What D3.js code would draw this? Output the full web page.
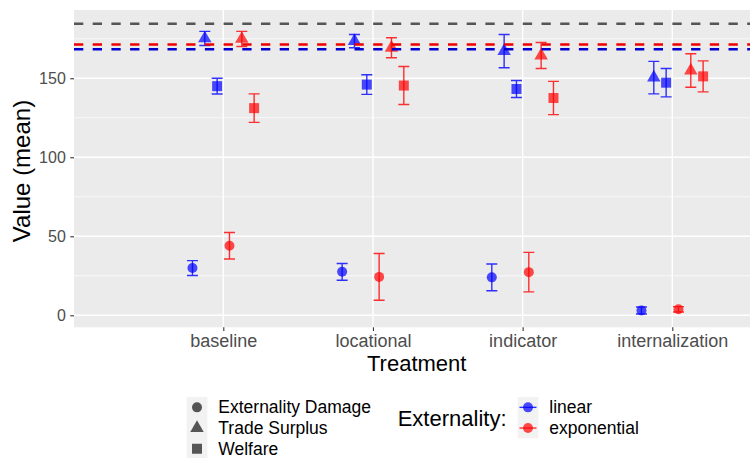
<!DOCTYPE html>
<html>
<head>
<meta charset="utf-8">
<script src="https://cdn.jsdelivr.net/npm/d3@7"></script>
<style>
  html, body { margin: 0; padding: 0; background: #fff; }
  svg { display: block; font-family: "Liberation Sans", Arial, sans-serif; }
</style>
</head>
<body>
<svg id="chart" width="750" height="458"></svg>
<script>
// Treatments on the x axis, measures (point shapes) and externality types (colours)
const treatments = ["baseline", "locational", "indicator", "internalization"];
const measures = ["Externality Damage", "Trade Surplus", "Welfare"];
const externalities = ["linear", "exponential"];

// Means and error half-widths, one value per treatment
const damageLinearMean = [29.9, 27.5, 24.0, 3.0];
const damageLinearErr = [4.7, 5.3, 8.5, 2.2];
const damageExpMean = [44.0, 24.3, 27.3, 3.8];
const damageExpErr = [8.4, 14.8, 12.5, 1.7];
const surplusLinearMean = [175.2, 173.5, 167.2, 150.4];
const surplusLinearErr = [4.5, 4.2, 10.5, 10.3];
const surplusExpMean = [174.9, 169.3, 164.4, 154.9];
const surplusExpErr = [4.8, 6.3, 8.2, 10.6];
const welfareLinearMean = [145.0, 146.0, 143.2, 147.2];
const welfareLinearErr = [5.0, 6.2, 5.4, 9.0];
const welfareExpMean = [131.1, 145.4, 137.5, 151.2];
const welfareExpErr = [9.0, 12.0, 10.5, 9.8];

// Reference levels (dashed horizontal lines)
const referenceValues = [184.5, 171.4, 168.4];
const referenceKinds = ["max", "exponential", "linear"];

const yTicks = [0, 50, 100, 150];
const yMinorTicks = [25, 75, 125, 175];

// Long-format rows built from the arrays above
const seriesTable = [
  { measure: measures[0], ext: "linear", mean: damageLinearMean, err: damageLinearErr },
  { measure: measures[1], ext: "linear", mean: surplusLinearMean, err: surplusLinearErr },
  { measure: measures[2], ext: "linear", mean: welfareLinearMean, err: welfareLinearErr },
  { measure: measures[0], ext: "exponential", mean: damageExpMean, err: damageExpErr },
  { measure: measures[1], ext: "exponential", mean: surplusExpMean, err: surplusExpErr },
  { measure: measures[2], ext: "exponential", mean: welfareExpMean, err: welfareExpErr }
];
const rows = [];
seriesTable.forEach((s, gi) => {
  treatments.forEach((t, i) => {
    rows.push({ treatment: t, measure: s.measure, ext: s.ext, group: gi, value: s.mean[i], err: s.err[i] });
  });
});

const colour = { linear: "#0000ff", exponential: "#ff0000" };
const refColour = { max: "#555555", linear: "#0000cc", exponential: "#ee0000" };

const svg = d3.select("#chart");
const panel = { left: 74, right: 750, top: 10, bottom: 327.3 };

const x = d3.scalePoint().domain(treatments).range([223.3, 672.3]);
const dodge = d3.scaleBand().domain(d3.range(6)).range([-37, 37]);
const y = d3.scaleLinear().domain([-7.6, 193.2]).range([panel.bottom, panel.top]);

// Panel background and grid
svg.append("rect")
  .attr("x", panel.left).attr("y", panel.top)
  .attr("width", panel.right - panel.left).attr("height", panel.bottom - panel.top)
  .attr("fill", "#ebebeb");

const grid = svg.append("g");
grid.selectAll("line.minor").data(yMinorTicks).join("line")
  .attr("x1", panel.left).attr("x2", panel.right)
  .attr("y1", d => y(d)).attr("y2", d => y(d))
  .attr("stroke", "#fff").attr("stroke-width", 0.7);
grid.selectAll("line.major").data(yTicks).join("line")
  .attr("x1", panel.left).attr("x2", panel.right)
  .attr("y1", d => y(d)).attr("y2", d => y(d))
  .attr("stroke", "#fff").attr("stroke-width", 1.4);
grid.selectAll("line.vmajor").data(treatments).join("line")
  .attr("x1", d => x(d)).attr("x2", d => x(d))
  .attr("y1", panel.top).attr("y2", panel.bottom)
  .attr("stroke", "#fff").attr("stroke-width", 1.4);

// Point shapes following base R pch 16 / 17 / 15
const R = 5;
function shapePath(measure, cx, cy, r) {
  if (measure === measures[0]) {
    return `M${cx - r},${cy}a${r},${r} 0 1,0 ${2 * r},0a${r},${r} 0 1,0 ${-2 * r},0Z`;
  } else if (measure === measures[1]) {
    const rt = 1.5551 * r, hx = 1.3468 * r, hy = 0.7776 * r;
    return `M${cx},${cy - rt}L${cx + hx},${cy + hy}L${cx - hx},${cy + hy}Z`;
  }
  return `M${cx - r},${cy - r}h${2 * r}v${2 * r}h${-2 * r}Z`;
}

const px = d => x(d.treatment) + dodge(d.group) + dodge.bandwidth() / 2;

// Points
svg.append("g").selectAll("path").data(rows).join("path")
  .attr("d", d => shapePath(d.measure, px(d), y(d.value), R))
  .attr("fill", d => colour[d.ext]).attr("fill-opacity", 0.7);

// Error bars
const cap = 5.5;
const eb = svg.append("g").selectAll("g").data(rows).join("g")
  .attr("stroke", d => colour[d.ext]).attr("stroke-opacity", 0.8)
  .attr("stroke-width", 1.4).attr("fill", "none");
eb.append("path")
  .attr("d", d => {
    const cx = px(d), y1 = y(d.value + d.err), y0 = y(d.value - d.err);
    return `M${cx - cap},${y1}H${cx + cap}M${cx},${y1}V${y0}M${cx - cap},${y0}H${cx + cap}`;
  });

// Dashed reference lines
svg.append("g").selectAll("line").data(referenceValues).join("line")
  .attr("x1", panel.left).attr("x2", panel.right)
  .attr("y1", d => y(d)).attr("y2", d => y(d))
  .attr("stroke", (d, i) => refColour[referenceKinds[i]])
  .attr("stroke-width", 2.6)
  .attr("stroke-dasharray", "9.3,9.4");

// Axes
const yAxis = svg.append("g")
  .attr("transform", `translate(${panel.left},0)`)
  .call(d3.axisLeft(y).tickValues(yTicks).tickSize(3.7).tickPadding(4.5));
yAxis.select(".domain").remove();
yAxis.selectAll(".tick line").attr("stroke", "#333").attr("stroke-width", 1.1);
yAxis.selectAll(".tick text").attr("fill", "#4d4d4d")
  .style("font-size", "16px").style("font-family", "Liberation Sans, Arial, sans-serif");

const xAxis = svg.append("g")
  .attr("transform", `translate(0,${panel.bottom})`)
  .call(d3.axisBottom(x).tickSize(3.7).tickPadding(3));
xAxis.select(".domain").remove();
xAxis.selectAll(".tick line").attr("stroke", "#333").attr("stroke-width", 1.1);
xAxis.selectAll(".tick text").attr("fill", "#4d4d4d")
  .style("font-size", "18px").style("font-family", "Liberation Sans, Arial, sans-serif");

// Axis titles
svg.append("text")
  .attr("x", 367).attr("y", 371)
  .attr("font-size", 22).attr("fill", "#000")
  .text("Treatment");
svg.append("text")
  .attr("transform", "translate(30,171) rotate(-90)")
  .attr("text-anchor", "middle")
  .attr("font-size", 24).attr("fill", "#000")
  .text("Value (mean)");

// Shape legend
const rowH = 20.7, legTop = 397;
const shapeLeg = svg.append("g");
shapeLeg.append("rect")
  .attr("x", 186.7).attr("y", legTop).attr("width", 20.7).attr("height", rowH * measures.length)
  .attr("fill", "#f2f2f2");
measures.forEach((m, i) => {
  const cy = legTop + rowH * (i + 0.5);
  shapeLeg.append("path")
    .attr("d", shapePath(m, 197, cy, R))
    .attr("fill", "#000").attr("fill-opacity", 0.65);
  shapeLeg.append("text")
    .attr("x", 218.3).attr("y", cy + 6.0)
    .attr("font-size", 17.5).attr("fill", "#000")
    .text(m);
});

// Colour legend
const colLeg = svg.append("g");
colLeg.append("text")
  .attr("x", 397.7).attr("y", 426)
  .attr("font-size", 22).attr("fill", "#000")
  .text("Externality:");
colLeg.append("rect")
  .attr("x", 517.7).attr("y", legTop).attr("width", 20.7).attr("height", rowH * externalities.length)
  .attr("fill", "#f2f2f2");
externalities.forEach((e, i) => {
  const cy = legTop + rowH * (i + 0.5);
  colLeg.append("line")
    .attr("x1", 519.5).attr("x2", 536.5).attr("y1", cy).attr("y2", cy)
    .attr("stroke", colour[e]).attr("stroke-opacity", 0.8).attr("stroke-width", 1.4);
  colLeg.append("path")
    .attr("d", shapePath(measures[0], 528, cy, R))
    .attr("fill", colour[e]).attr("fill-opacity", 0.7);
  colLeg.append("text")
    .attr("x", 549.3).attr("y", cy + 6.0)
    .attr("font-size", 17.5).attr("fill", "#000")
    .text(e);
});
</script>
</body>
</html>
